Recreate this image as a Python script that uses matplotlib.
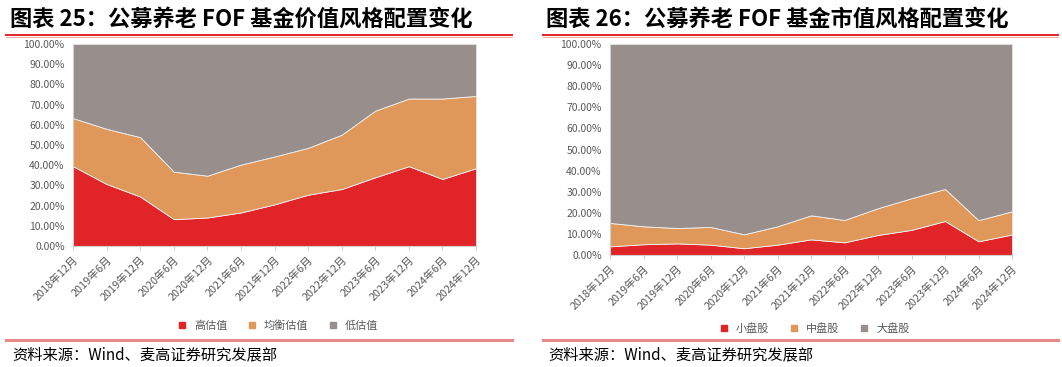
import matplotlib
matplotlib.use("Agg")
import matplotlib.pyplot as plt
from matplotlib.lines import Line2D
from matplotlib.ticker import FuncFormatter

plt.rcParams['font.family'] = ['Noto Sans CJK SC', 'DejaVu Sans']

dates = ["2018年12月", "2019年6月", "2019年12月", "2020年6月", "2020年12月",
         "2021年6月", "2021年12月", "2022年6月", "2022年12月", "2023年6月",
         "2023年12月", "2024年6月", "2024年12月"]

# 价值风格 (%)
high_val = [39.5, 30.7, 24.5, 13.3, 14.1, 16.6, 20.6, 25.4, 28.2, 34.0, 39.5, 33.2, 38.5]
mid_val = [23.8, 27.3, 29.4, 23.5, 20.7, 23.7, 23.7, 23.2, 26.9, 33.0, 33.5, 39.8, 35.8]
low_val = [36.7, 42.0, 46.1, 63.2, 65.2, 59.7, 55.7, 51.4, 44.9, 33.0, 27.0, 27.0, 25.7]

# 市值风格 (%)
small_cap = [4.1, 5.1, 5.5, 4.9, 3.2, 4.9, 7.4, 6.0, 9.5, 11.9, 16.1, 6.5, 9.7]
mid_cap = [11.1, 8.5, 7.3, 8.4, 6.6, 8.7, 11.4, 10.6, 12.7, 15.0, 15.2, 10.0, 11.0]
large_cap = [84.8, 86.4, 87.2, 86.7, 90.2, 86.4, 81.2, 83.4, 77.8, 73.1, 68.7, 83.5, 79.3]

RED = "#E02427"
ORANGE = "#DF985A"
GRAY = "#988F8D"
TXT = "#595959"

W, H = 1062, 367
fig = plt.figure(figsize=(W / 100, H / 100), dpi=100)


def px(x0, y0, w, h):
    return [x0 / W, 1 - (y0 + h) / H, w / W, h / H]


def panel(rect, series, labels, title, x_title, x_line0, x_line1, legend_y):
    ax = fig.add_axes(rect)
    x = range(len(dates))
    ax.stackplot(x, *series, colors=[RED, ORANGE, GRAY], labels=labels,
                 edgecolor="#f2f2f2", linewidth=0.6)
    ax.set_xlim(0, len(dates) - 1)
    ax.set_ylim(0, 100)
    ax.set_yticks(range(0, 101, 10))
    ax.yaxis.set_major_formatter(FuncFormatter(lambda v, p: f"{v:.2f}%"))
    ax.set_xticks(list(x))
    ax.set_xticklabels(dates, rotation=45, ha="right", rotation_mode="anchor")
    ax.tick_params(axis="y", length=0, labelsize=7.5, labelcolor=TXT, pad=6)
    ax.tick_params(axis="x", length=3, color="#d0d0d0", labelsize=7.8,
                   labelcolor=TXT, pad=3)
    for s in ["top", "right"]:
        ax.spines[s].set_color("#e0e0e0")
        ax.spines[s].set_linewidth(0.6)
    for s in ["left", "bottom"]:
        ax.spines[s].set_color("#d0d0d0")
        ax.spines[s].set_linewidth(0.8)

    handles = [Line2D([], [], marker="s", linestyle="none", markersize=5, color=c)
               for c in [RED, ORANGE, GRAY]]
    cx = rect[0] + rect[2] / 2
    fig.legend(handles, labels, loc="center", bbox_to_anchor=(cx, 1 - legend_y / H),
               ncol=3, frameon=False, fontsize=8, handletextpad=0.1,
               columnspacing=1.2, labelcolor=TXT)

    fig.text(x_title / W, 1 - 19 / H, title, fontsize=16, fontweight="bold",
             va="center", ha="left", color="black")
    # header double line
    fig.add_artist(Line2D([x_line0 / W, x_line1 / W], [1 - 34.5 / H] * 2,
                          color=RED, linewidth=1.4))
    fig.add_artist(Line2D([x_line0 / W, x_line1 / W], [1 - 37 / H] * 2,
                          color="#EE9A9A", linewidth=0.6))
    # footer line
    fig.add_artist(Line2D([x_line0 / W, x_line1 / W], [1 - 340 / H] * 2,
                          color="#E88A8A", linewidth=2.2))
    fig.text(x_title / W + 2 / W, 1 - 355 / H, "资料来源：Wind、麦高证券研究发展部",
             fontsize=11, va="center", ha="left", color="black")
    return ax


panel(px(73, 44, 403, 202), [high_val, mid_val, low_val],
      ["高估值", "均衡估值", "低估值"],
      "图表 25：公募养老 FOF 基金价值风格配置变化", 10, 6, 512, 326)
panel(px(610, 44, 402, 211), [small_cap, mid_cap, large_cap],
      ["小盘股", "中盘股", "大盘股"],
      "图表 26：公募养老 FOF 基金市值风格配置变化", 546, 543, 1058, 328)

fig.savefig("out.png", dpi=100)
